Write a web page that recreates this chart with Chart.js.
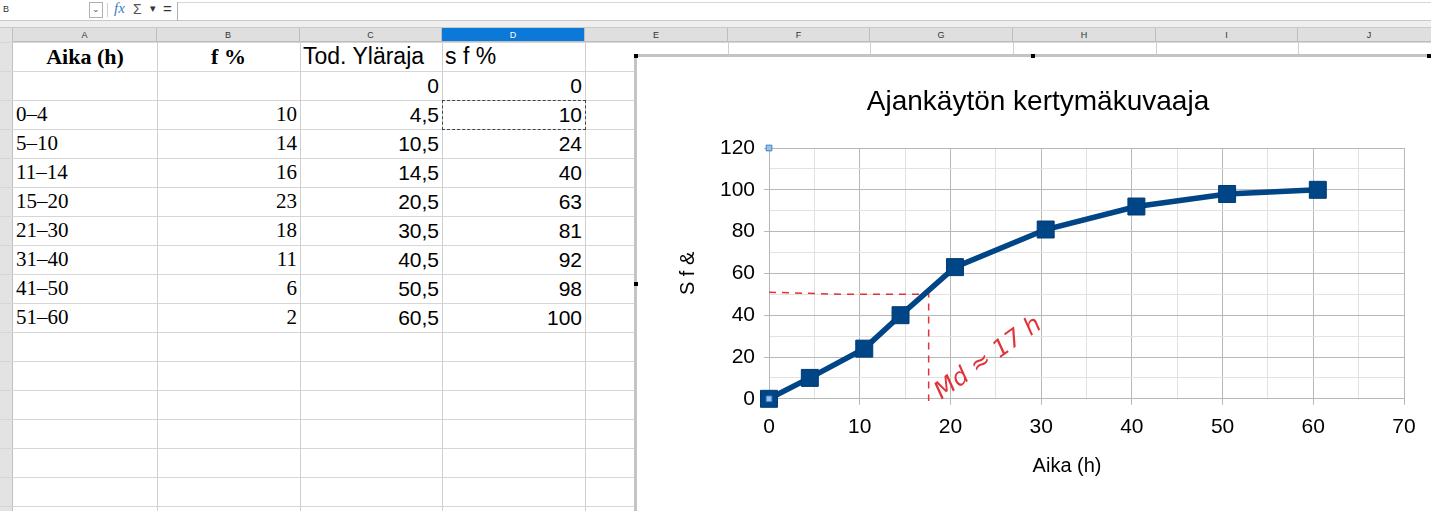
<!DOCTYPE html>
<html>
<head>
<meta charset="utf-8">
<script src="https://cdn.jsdelivr.net/npm/chart.js@4.4.1/dist/chart.umd.min.js"></script>
<style>
  body { margin: 0; width: 1431px; height: 511px; overflow: hidden; background: #fff; position: relative; font-family: "Liberation Sans", Arial, sans-serif; }
  .abs { position: absolute; box-sizing: border-box; }
  .colhead { position: absolute; top: 28px; height: 14px; background: #dfdfdf; border-right: 1px solid #bdbdbd; border-bottom: 1px solid #bdbdbd; font-size: 9px; color: #333; text-align: center; line-height: 14px; box-sizing: border-box; }
  .cell { position: absolute; height: 29px; line-height: 29px; font-size: 21px; white-space: nowrap; color: #000; box-sizing: border-box; padding: 0 3px; }
  .serif { font-family: "Liberation Serif", "Times New Roman", serif; }
  .sans { font-family: "Liberation Sans", Arial, sans-serif; }
  .r { text-align: right; }
  .c { text-align: center; }
  .handle { position: absolute; width: 4px; height: 4px; background: #000; }
</style>
</head>
<body>
<div id="sheet"></div>
<div class="abs" style="left:634px; top:54px; width:797px; height:457px; background:#fff; border-left:3px solid #c4c4c4; border-top:3px solid #c4c4c4;"></div>
<div class="handle" style="left:634px; top:54px;"></div>
<div class="handle" style="left:1031px; top:54px;"></div>
<div class="handle" style="left:634px; top:282px;"></div>
<div class="handle" style="left:1427px; top:54px;"></div>
<div class="abs" style="left:637px; top:57px; width:794px; height:454px;">
  <canvas id="kuvaaja" width="794" height="454"></canvas>
</div>
<script>
// Taulukon tiedot
const luokat = ['0–4', '5–10', '11–14', '15–20', '21–30', '31–40', '41–50', '51–60'];
const fProsentti = [10, 14, 16, 23, 18, 11, 6, 2];
const ylarajat = [0, 4.5, 10.5, 14.5, 20.5, 30.5, 40.5, 50.5, 60.5];
const summaProsentti = [0, 10, 24, 40, 63, 81, 92, 98, 100];
const sarakkeet = ['A', 'B', 'C', 'D', 'E', 'F', 'G', 'H', 'I', 'J'];

// Käsin piirretty mediaaniviiva (arvioitu kuvasta)
const mediaaniX = [0, 8, 17.6, 17.6];
const mediaaniY = [51, 50, 50, -1];

// Piirretään taulukkolaskennan ruudukko
const sheet = document.getElementById('sheet');
const colLeft = [13, 157, 300, 442, 585, 728, 870, 1013, 1156, 1298, 1441];
const rowTop = 42, rowH = 29;

function add(html) { sheet.insertAdjacentHTML('beforeend', html); }
function fmt(v) { return String(v).replace('.', ','); }

// yläpalkki
add('<div class="abs" style="left:0;top:0;width:1431px;height:21px;border-bottom:1px solid #c8c8c8;background:#fff"></div>');
add('<div class="abs" style="left:3px;top:4px;font-size:9px;color:#333">B</div>');
add('<div class="abs" style="left:89px;top:2px;width:14px;height:16px;border:1px solid #b0b0b0;font-size:9px;color:#555;text-align:center;line-height:13px">&#8964;</div>');
add('<div class="abs" style="left:107px;top:3px;width:1px;height:14px;background:#d0d0d0"></div>');
add('<div class="abs serif" style="left:114px;top:0px;font-size:15px;font-style:italic;color:#3a7dc9">fx</div>');
add('<div class="abs" style="left:133px;top:1px;font-size:14px;color:#555">&Sigma;</div>');
add('<div class="abs" style="left:150px;top:2px;font-size:11px;color:#333">&#9662;</div>');
add('<div class="abs" style="left:163px;top:0px;font-size:15px;color:#333">=</div>');
add('<div class="abs" style="left:177px;top:2px;width:1260px;height:19px;border-left:1px solid #b0b0b0;border-top:1px solid #d6d6d6"></div>');
add('<div class="abs" style="left:0;top:21px;width:1431px;height:7px;background:#efefef;border-bottom:1px solid #c8c8c8"></div>');

// rivien otsakesarake
add('<div class="abs" style="left:0;top:28px;width:13px;height:483px;background:#e3e3e3;border-right:1px solid #c0c0c0"></div>');

// sarakeotsikot
sarakkeet.forEach((s, i) => {
  const sel = s === 'D';
  add('<div class="colhead" style="left:' + colLeft[i] + 'px;width:' + (colLeft[i + 1] - colLeft[i]) + 'px;' +
      (sel ? 'background:#0c79d8;color:#fff;' : '') + '">' + s + '</div>');
});

// ruudukon viivat
for (let r = 0; r <= 16; r++) {
  add('<div class="abs" style="left:0;top:' + (rowTop + r * rowH) + 'px;width:1431px;height:1px;background:#d6d6d6"></div>');
}
for (let i = 1; i < colLeft.length; i++) {
  add('<div class="abs" style="left:' + colLeft[i] + 'px;top:42px;width:1px;height:470px;background:#cfcfcf"></div>');
}

function cell(col, row, text, cls, extra) {
  add('<div class="cell ' + cls + '" style="left:' + colLeft[col] + 'px;top:' + (rowTop + row * rowH) + 'px;width:' +
      (colLeft[col + 1] - colLeft[col]) + 'px;' + (extra || '') + '">' + text + '</div>');
}

cell(0, 0, 'Aika (h)', 'serif c', 'font-weight:bold;font-size:22px');
cell(1, 0, 'f %', 'serif c', 'font-weight:bold;font-size:22px');
cell(2, 0, 'Tod. Yläraja', 'sans', 'font-size:23px');
cell(3, 0, 's f %', 'sans', 'font-size:23px');
cell(2, 1, fmt(ylarajat[0]), 'sans r');
cell(3, 1, fmt(summaProsentti[0]), 'sans r');
luokat.forEach((l, i) => {
  cell(0, i + 2, l, 'serif');
  cell(1, i + 2, fProsentti[i], 'serif r');
  cell(2, i + 2, fmt(ylarajat[i + 1]), 'sans r');
  cell(3, i + 2, fmt(summaProsentti[i + 1]), 'sans r');
});
// kopioitavan solun katkoviivareunus
add('<div class="abs" style="left:442px;top:100px;width:144px;height:30px;border:1px dashed #444"></div>');

// Käsinkirjoitettu merkintä kaavioon
const merkinta = {
  id: 'merkinta',
  afterDatasetsDraw(chart) {
    const x = chart.scales.x, y = chart.scales.y, ctx = chart.ctx;
    ctx.save();
    ctx.translate(x.getPixelForValue(19.0), y.getPixelForValue(-0.5));
    ctx.rotate(-0.62);
    ctx.fillStyle = '#e0333a';
    ctx.font = 'italic 24px "DejaVu Sans", sans-serif';
    ctx.fillText('Md ≈ 17 h', 0, 0);
    ctx.restore();
  }
};

const majorX = v => v % 10 === 0;
const majorY = v => v % 20 === 0;

new Chart(document.getElementById('kuvaaja'), {
  type: 'scatter',
  data: {
    datasets: [
      {
        label: 'kahvat',
        data: [{ x: 0, y: 120 }, { x: 0, y: 0 }],
        pointStyle: 'rect',
        pointRadius: 4,
        backgroundColor: '#9cc3ec',
        borderColor: '#3f7fc4',
        borderWidth: 1,
        showLine: false,
        clip: false
      },
      {
        label: 's f %',
        data: ylarajat.map((x, i) => ({ x: x, y: summaProsentti[i] })),
        showLine: true,
        borderColor: '#004586',
        backgroundColor: '#004586',
        borderWidth: 5.5,
        pointStyle: 'rect',
        pointRadius: 12,
        pointBorderColor: '#003b73',
        pointBorderWidth: 1,
        clip: false
      },
      {
        label: 'mediaani',
        data: mediaaniX.map((x, i) => ({ x: x, y: mediaaniY[i] })),
        showLine: true,
        borderColor: '#e0333a',
        borderWidth: 1.5,
        borderDash: [7, 6],
        pointRadius: 0,
        clip: false
      }
    ]
  },
  options: {
    responsive: false,
    animation: false,
    layout: { padding: { top: 28, left: 35, right: 27, bottom: 29 } },
    plugins: {
      legend: { display: false },
      tooltip: { enabled: false },
      title: {
        display: true,
        text: 'Ajankäytön kertymäkuvaaja',
        color: '#000',
        font: { family: '"Liberation Sans", Arial, sans-serif', size: 28, weight: 'normal' },
        padding: { top: 0, bottom: 29.4 }
      }
    },
    scales: {
      x: {
        type: 'linear',
        min: 0,
        max: 70,
        ticks: {
          stepSize: 5,
          autoSkip: false,
          maxRotation: 0,
          padding: 10,
          color: '#000',
          font: { family: '"Liberation Sans", Arial, sans-serif', size: 21 },
          callback: v => majorX(v) ? v : ''
        },
        grid: {
          color: c => majorX(c.tick.value) ? '#b8b8b8' : '#e2e2e2',
          tickColor: c => majorX(c.tick.value) ? '#b8b8b8' : 'rgba(0,0,0,0)',
          tickLength: 6
        },
        border: { color: '#b8b8b8' },
        title: {
          display: true,
          // lisävälit siirtävät otsikkoa vasemmalle kuten alkuperäisessä
          text: 'Aika (h)' + '\u00a0'.repeat(7),
          color: '#000',
          font: { family: '"Liberation Sans", Arial, sans-serif', size: 20 },
          padding: { top: 4, bottom: 4 }
        }
      },
      y: {
        min: 0,
        max: 120,
        ticks: {
          stepSize: 10,
          autoSkip: false,
          padding: 9,
          color: '#000',
          font: { family: '"Liberation Sans", Arial, sans-serif', size: 21 },
          callback: v => majorY(v) ? v : ''
        },
        grid: {
          color: c => majorY(c.tick.value) ? '#b8b8b8' : '#e2e2e2',
          tickColor: c => majorY(c.tick.value) ? '#b8b8b8' : 'rgba(0,0,0,0)',
          tickLength: 5
        },
        border: { color: '#b8b8b8' },
        title: {
          display: true,
          text: 'S f &',
          color: '#000',
          font: { family: '"Liberation Sans", Arial, sans-serif', size: 20 },
          padding: { top: 4, bottom: 4 }
        },
        afterFit: s => { s.width = 97; }
      }
    }
  },
  plugins: [merkinta]
});
</script>
</body>
</html>
